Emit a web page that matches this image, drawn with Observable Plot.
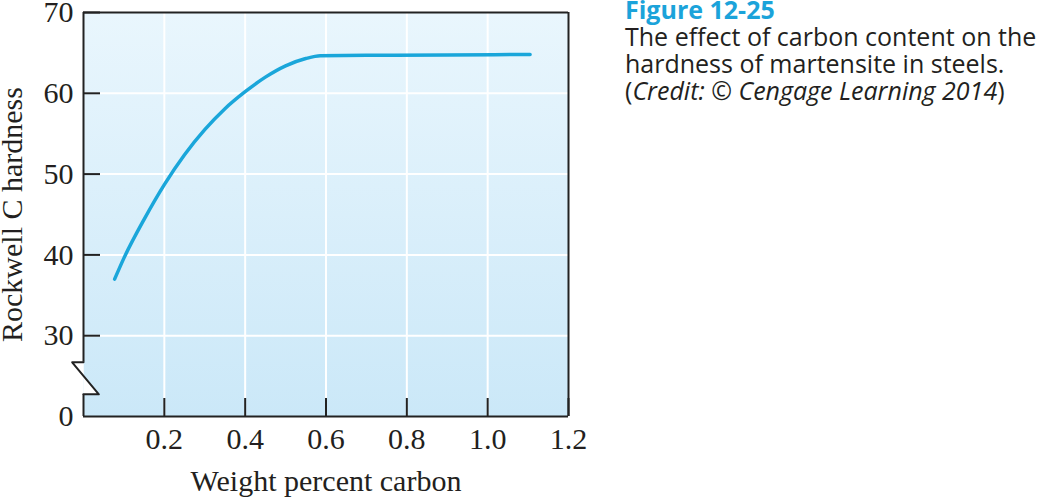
<!DOCTYPE html>
<html><head><meta charset="utf-8">
<script src="https://cdn.jsdelivr.net/npm/d3@7"></script>
<script src="https://cdn.jsdelivr.net/npm/@observablehq/plot@0.6"></script>
<style>
body{margin:0;background:#fff;}
#wrap{position:relative;width:1050px;height:499px;overflow:hidden;}
#cap{position:absolute;left:625px;top:-4px;font-family:"Open Sans",sans-serif;font-size:25px;line-height:27px;color:#231f20;white-space:nowrap;}
#cap .fig{color:#1ba3da;font-weight:700;}
</style></head><body>
<div id="wrap"><div id="chart"></div>
<div id="cap"><div class="fig">Figure 12-25</div><div>The effect of carbon content on the</div><div>hardness of martensite in steels.</div><div>(<i>Credit: © Cengage Learning 2014</i>)</div></div>
</div>
<script>
// curve
const carbon   = [0.077, 0.10, 0.15, 0.20, 0.25, 0.30, 0.35, 0.40, 0.45, 0.50, 0.55, 0.586, 0.70, 0.90, 1.105];
const hardness = [37.0, 39.6, 44.4, 48.7, 52.4, 55.5, 58.1, 60.2, 62.0, 63.4, 64.3, 64.65, 64.7, 64.75, 64.8];
const xTicks = [0.2, 0.4, 0.6, 0.8, 1.0, 1.2];
const xTickLabels = ["0.2", "0.4", "0.6", "0.8", "1.0", "1.2"];
const yTicks = [20, 30, 40, 50, 60, 70];
const yTickLabels = ["0", "30", "40", "50", "60", "70"];
const gridX = [0.2, 0.4, 0.6, 0.8, 1.0];
const gridY = [30, 40, 50, 60];
// axis break (zigzag on the y axis), in data units
const breakTop = 26.7, breakBottom = 22.75;
const breakShapeX = [0, -0.028, 0.038, 0];
const breakShapeY = [26.7, 26.7, 22.75, 22.75];

const data = carbon.map((c, i) => ({c, h: hardness[i]}));
const breakShape = breakShapeX.map((x, i) => ({x, y: breakShapeY[i]}));

const W = 1050, H = 499, mL = 83, mR = 1050 - 568, mT = 12, mB = 499 - 416;
const plotW = W - mL - mR, plotH = H - mT - mB;
const ink = "#222222";

const defs = () => {
  const d = d3.create("svg:defs");
  const g = d.append("linearGradient").attr("id", "bg").attr("x1", 0).attr("y1", 0).attr("x2", 0).attr("y2", 1);
  g.append("stop").attr("offset", "0%").attr("stop-color", "#e9f6fd");
  g.append("stop").attr("offset", "100%").attr("stop-color", "#cbe8f8");
  return d.node();
};

const chart = Plot.plot({
  width: W, height: H,
  marginLeft: mL, marginRight: mR, marginTop: mT, marginBottom: mB,
  style: {fontFamily: "'Liberation Serif', serif", fontSize: "30px", color: "#231f20", overflow: "visible"},
  x: {domain: [0, 1.2]},
  y: {domain: [20, 70]},
  marks: [
    defs,
    Plot.frame({fill: "url(#bg)", stroke: "none"}),
    Plot.ruleX(gridX, {stroke: "white", strokeWidth: 2}),
    Plot.ruleY(gridY, {stroke: "white", strokeWidth: 2}),
    // frame sides
    Plot.ruleY([70], {stroke: ink, strokeWidth: 2}),
    Plot.ruleY([20], {stroke: ink, strokeWidth: 2}),
    Plot.ruleX([1.2], {stroke: ink, strokeWidth: 2}),
    Plot.ruleX([0], {y1: breakTop, y2: 70, stroke: ink, strokeWidth: 2}),
    Plot.ruleX([0], {y1: 20, y2: breakBottom, stroke: ink, strokeWidth: 2}),
    Plot.line(breakShape, {x: "x", y: "y", fill: "white", stroke: "none", clip: false}),
    Plot.line(breakShape, {x: "x", y: "y", stroke: ink, strokeWidth: 2, clip: false}),
    // inward ticks
    Plot.tickX(xTicks, {x: d => d, insetTop: plotH - 18, stroke: ink, strokeWidth: 2}),
    Plot.tickY(yTicks.slice(1), {y: d => d, insetRight: plotW - 17, stroke: ink, strokeWidth: 2}),
    Plot.axisX(xTicks, {tickSize: 0, tickPadding: 11, fontSize: 30, tickFormat: d => xTickLabels[xTicks.indexOf(d)],
      label: null}),
    Plot.axisY(yTicks, {tickSize: 0, tickPadding: 10, fontSize: 30, tickFormat: d => yTickLabels[yTicks.indexOf(d)],
      label: null}),
    Plot.text(["Weight percent carbon"], {frameAnchor: "bottom", dy: 74, lineAnchor: "bottom", fontSize: 30, text: d => d, fill: "#231f20"}),
    Plot.text(["Rockwell C hardness"], {frameAnchor: "left", textAnchor: "middle", dx: -71, rotate: -90, lineAnchor: "middle", fontSize: 30, text: d => d, fill: "#231f20"}),
    Plot.line(data, {x: "c", y: "h", curve: "monotone-x", stroke: "#1aa6da", strokeWidth: 3.5})
  ]
});
document.getElementById("chart").appendChild(chart);
</script>
</body></html>
